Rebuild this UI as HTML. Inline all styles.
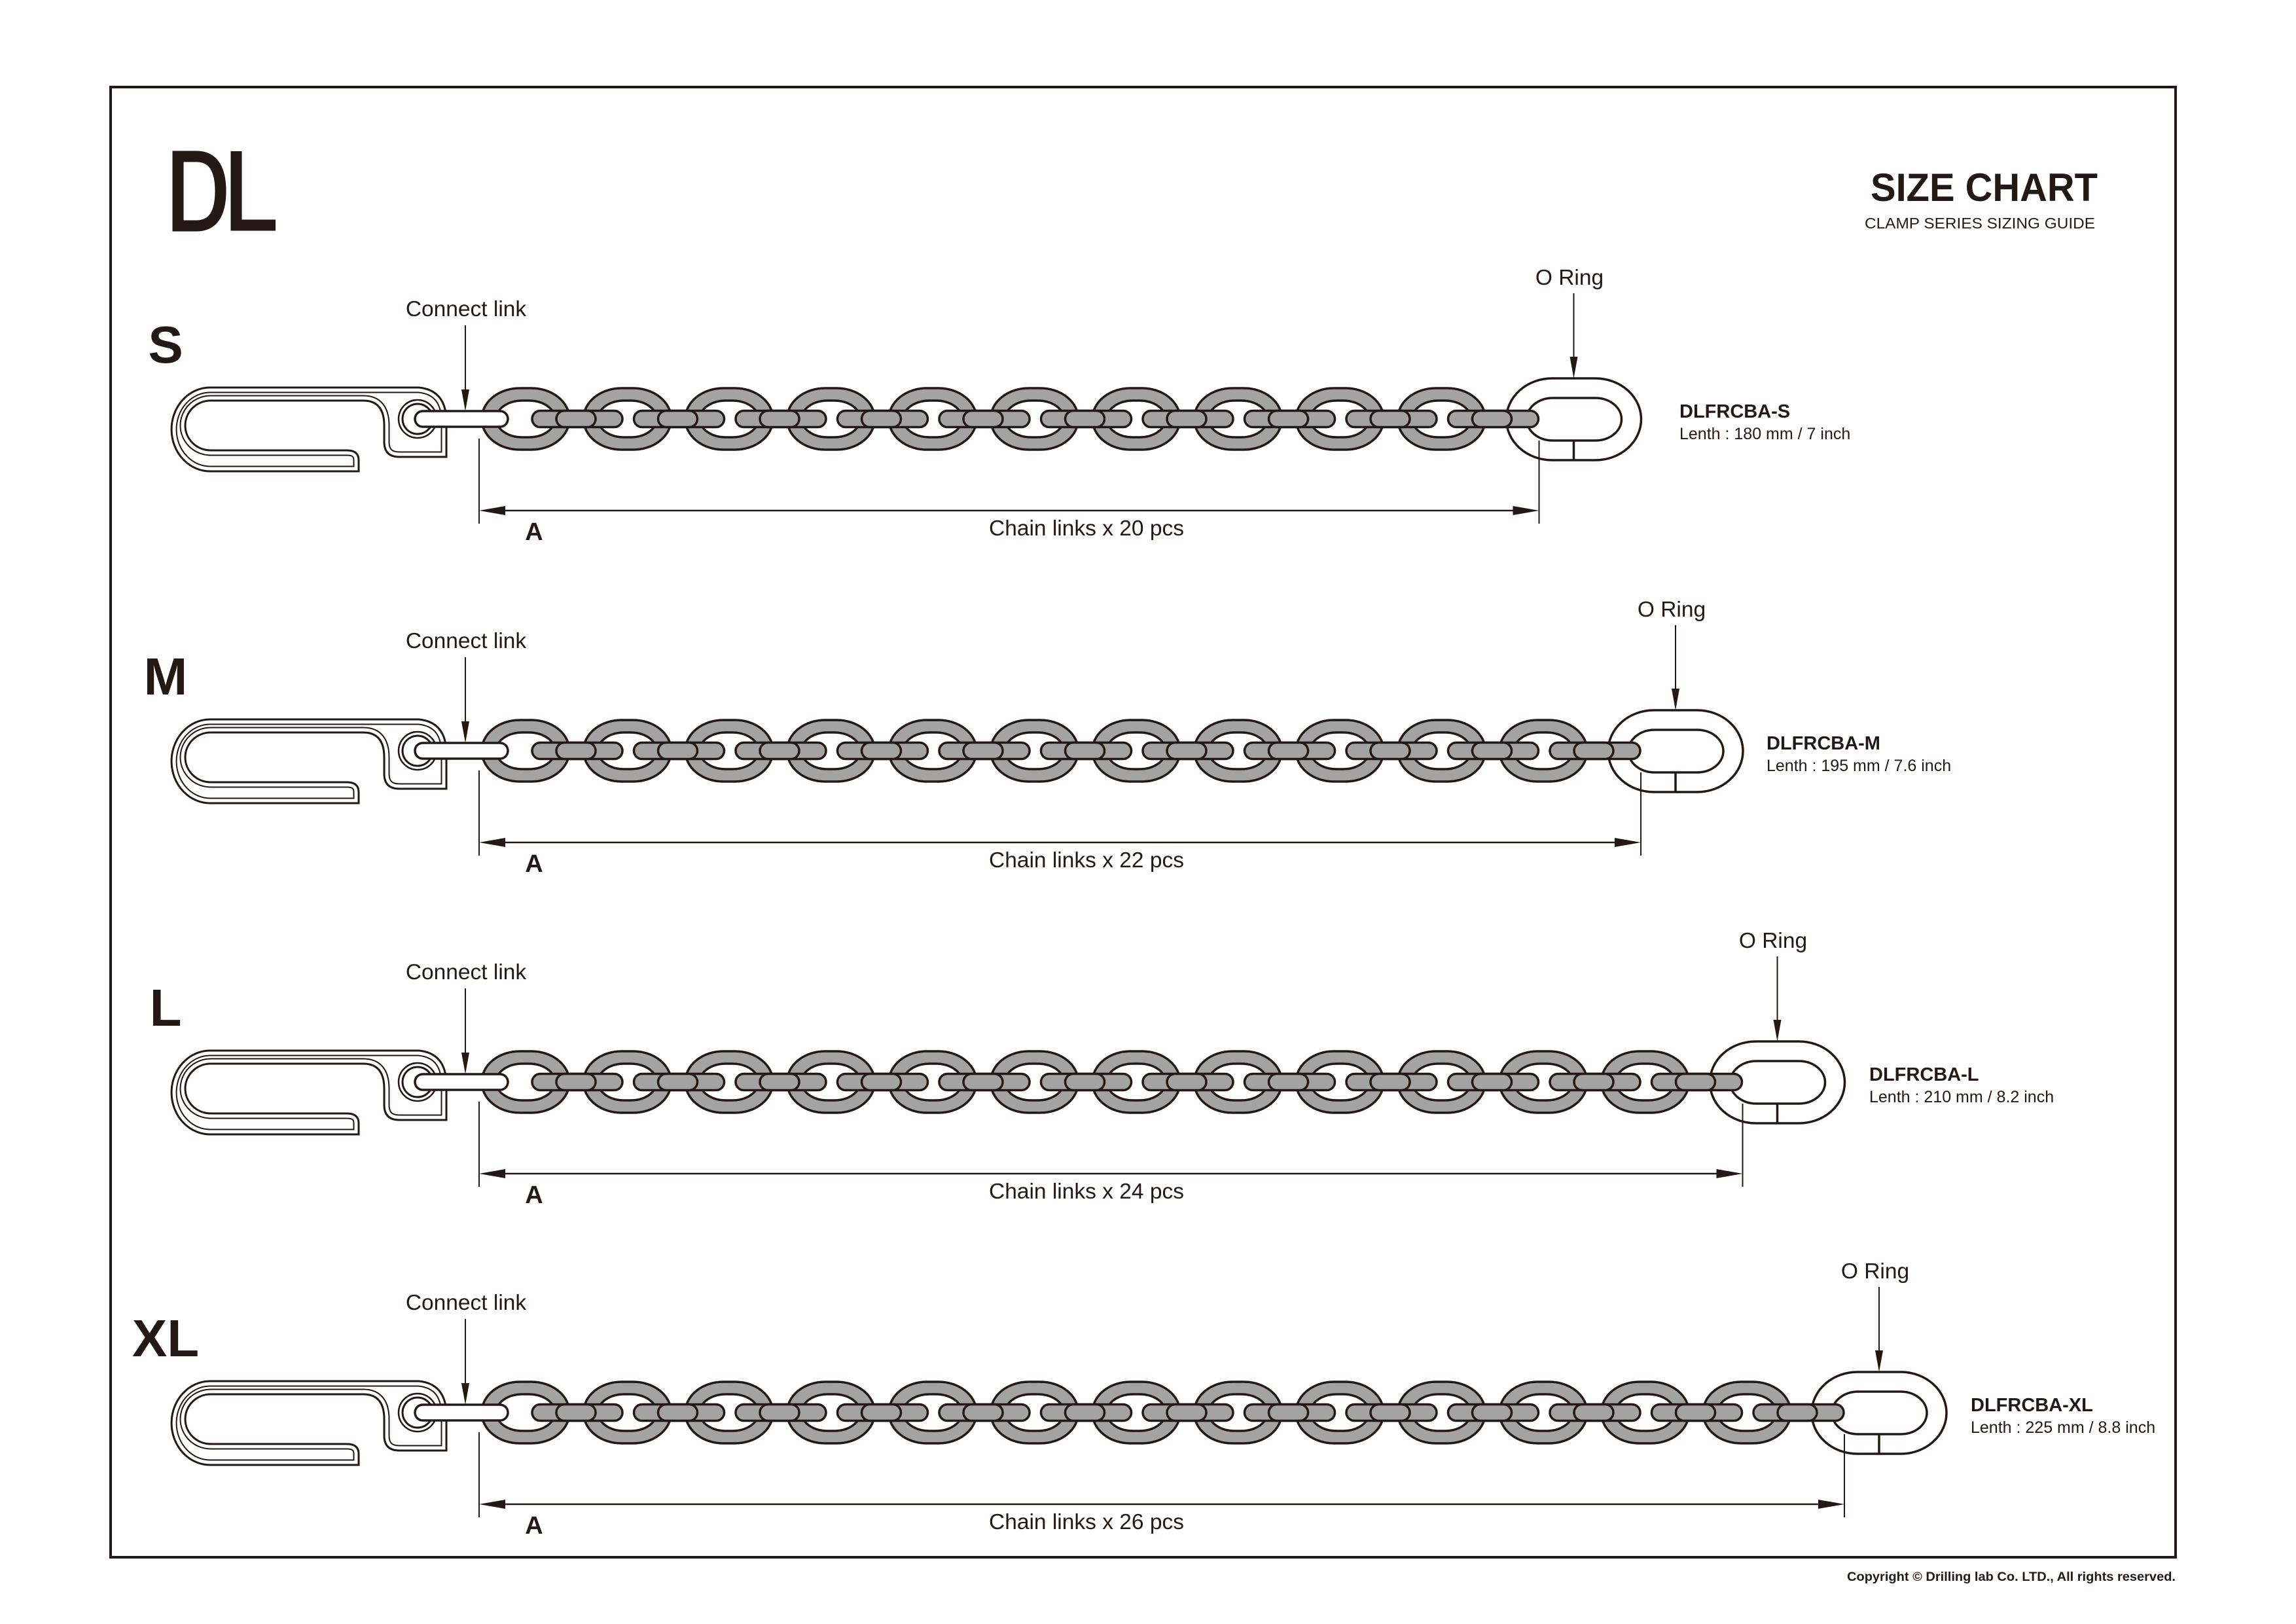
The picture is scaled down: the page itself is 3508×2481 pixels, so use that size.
<!DOCTYPE html>
<html><head><meta charset="utf-8"><style>
html,body{margin:0;padding:0;background:#fff;}
svg{display:block;}
text{font-family:"Liberation Sans",Arial,sans-serif;fill:#231815;}
</style></head><body>
<svg width="3508" height="2481" viewBox="0 0 3508 2481" xmlns="http://www.w3.org/2000/svg">
<defs>
  <g id="vl">
    <rect x="-67" y="593" width="134" height="94" rx="58" ry="47" fill="#a3a3a3" stroke="#231815" stroke-width="3.5"/>
    <rect x="-45" y="612" width="90" height="56" rx="40" ry="28" fill="#fff" stroke="#231815" stroke-width="3.5"/>
  </g>
  <g id="gp" fill="#a3a3a3" stroke="#231815" stroke-width="3.5">
    <rect x="10" y="627.5" width="138" height="25" rx="12.5" ry="12.5"/>
    <rect x="47" y="627.5" width="60" height="25" rx="12.5" ry="12.5"/>
  </g>
  <g id="ring" fill="#fff" stroke="#231815" stroke-width="3.5">
    <rect x="0" y="578" width="206" height="125" rx="70" ry="62.5"/>
    <rect x="31" y="608" width="145" height="65" rx="40" ry="32.5"/>
    <line x1="103" y1="673" x2="103" y2="703"/>
  </g>
  <path id="cpath" d="M 320 592 H 640 Q 680 596 682 640 V 698 H 610 Q 587 698 587 675 V 650 Q 587 612 555 612 H 322 A 39 38 0 0 0 322 688 H 530 Q 548 688 548 703 V 720 H 322 A 59 64 0 0 1 320 592 Z"/>
  <clipPath id="cclip"><use href="#cpath"/></clipPath>
  <g id="cl">
    <use href="#cpath" fill="#fff"/>
    <g clip-path="url(#cclip)" fill="none" stroke-linejoin="round">
      <use href="#cpath" stroke="#231815" stroke-width="17"/>
      <use href="#cpath" stroke="#fff" stroke-width="13"/>
    </g>
    <use href="#cpath" fill="none" stroke="#231815" stroke-width="3"/>
    <circle cx="638" cy="640" r="29" fill="#fff" stroke="#231815" stroke-width="2.5"/>
    <circle cx="638" cy="640" r="23" fill="#fff" stroke="#231815" stroke-width="3"/>
  </g>
  <g id="common">
    <use href="#cl"/>
    <text x="712" y="483" font-size="33.5" text-anchor="middle">Connect link</text>
    <line x1="711" y1="497" x2="711" y2="600" stroke="#231815" stroke-width="2"/>
    <polygon points="705,595 717,595 711,628" fill="#231815"/>
    <line x1="732" y1="670" x2="732" y2="800" stroke="#231815" stroke-width="2"/>
    <text x="816" y="825" font-size="38" font-weight="bold" text-anchor="middle">A</text>
  </g>
</defs>

<rect x="169" y="133" width="3155" height="2246" fill="none" stroke="#231815" stroke-width="4"/>

<!-- logo -->
<path d="M272 239 H300 Q337 239 337 292 Q337 345 300 345 H272 Z" fill="none" stroke="#231815" stroke-width="17"/>
<path d="M361 231 V344 H421" fill="none" stroke="#231815" stroke-width="17"/>

<text x="3205" y="307" font-size="60" font-weight="bold" text-anchor="end" textLength="347" lengthAdjust="spacingAndGlyphs">SIZE CHART</text>
<text x="3201" y="349" font-size="23" text-anchor="end" textLength="352" lengthAdjust="spacingAndGlyphs">CLAMP SERIES SIZING GUIDE</text>
<text x="3324" y="2415" font-size="19" font-weight="bold" text-anchor="end" textLength="502" lengthAdjust="spacingAndGlyphs">Copyright © Drilling lab Co. LTD., All rights reserved.</text>

<!-- S -->
<g>
  <text x="253" y="554" font-size="80" font-weight="bold" text-anchor="middle">S</text>
  <use href="#common"/>
  <use href="#vl" x="803"/><use href="#vl" x="958.5"/><use href="#vl" x="1114"/><use href="#vl" x="1269.5"/><use href="#vl" x="1425"/><use href="#vl" x="1580.5"/><use href="#vl" x="1736"/><use href="#vl" x="1891.5"/><use href="#vl" x="2047"/><use href="#vl" x="2202.5"/>
  <use href="#ring" x="2301.5"/>
  <rect x="634" y="628" width="142" height="24" rx="12" fill="#fff" stroke="#231815" stroke-width="3.5"/>
  <use href="#gp" x="803"/><use href="#gp" x="958.5"/><use href="#gp" x="1114"/><use href="#gp" x="1269.5"/><use href="#gp" x="1425"/><use href="#gp" x="1580.5"/><use href="#gp" x="1736"/><use href="#gp" x="1891.5"/><use href="#gp" x="2047"/><use href="#gp" x="2202.5"/>
  <text x="2398" y="435" font-size="33.5" text-anchor="middle">O Ring</text>
  <line x1="2404.5" y1="448" x2="2404.5" y2="550" stroke="#231815" stroke-width="2"/>
  <polygon points="2398.5,545 2410.5,545 2404.5,578" fill="#231815"/>
  <line x1="2351.5" y1="673" x2="2351.5" y2="800" stroke="#231815" stroke-width="2"/>
  <line x1="760" y1="780" x2="2325" y2="780" stroke="#231815" stroke-width="2.5"/>
  <polygon points="732,780 772,773 772,787" fill="#231815"/>
  <polygon points="2351.5,780 2311.5,773 2311.5,787" fill="#231815"/>
  <text x="1660" y="818" font-size="33.5" text-anchor="middle">Chain links x 20 pcs</text>
  <text x="2566" y="638" font-size="29" font-weight="bold">DLFRCBA-S</text>
  <text x="2566" y="671" font-size="25">Lenth : 180 mm / 7 inch</text>
</g>

<!-- M -->
<g transform="translate(0,507)">
  <text x="253" y="554" font-size="80" font-weight="bold" text-anchor="middle">M</text>
  <use href="#common"/>
  <use href="#vl" x="803"/><use href="#vl" x="958.5"/><use href="#vl" x="1114"/><use href="#vl" x="1269.5"/><use href="#vl" x="1425"/><use href="#vl" x="1580.5"/><use href="#vl" x="1736"/><use href="#vl" x="1891.5"/><use href="#vl" x="2047"/><use href="#vl" x="2202.5"/><use href="#vl" x="2358"/>
  <use href="#ring" x="2457"/>
  <rect x="634" y="628" width="142" height="24" rx="12" fill="#fff" stroke="#231815" stroke-width="3.5"/>
  <use href="#gp" x="803"/><use href="#gp" x="958.5"/><use href="#gp" x="1114"/><use href="#gp" x="1269.5"/><use href="#gp" x="1425"/><use href="#gp" x="1580.5"/><use href="#gp" x="1736"/><use href="#gp" x="1891.5"/><use href="#gp" x="2047"/><use href="#gp" x="2202.5"/><use href="#gp" x="2358"/>
  <text x="2554" y="435" font-size="33.5" text-anchor="middle">O Ring</text>
  <line x1="2560" y1="448" x2="2560" y2="550" stroke="#231815" stroke-width="2"/>
  <polygon points="2554,545 2566,545 2560,578" fill="#231815"/>
  <line x1="2507" y1="673" x2="2507" y2="800" stroke="#231815" stroke-width="2"/>
  <line x1="760" y1="780" x2="2480" y2="780" stroke="#231815" stroke-width="2.5"/>
  <polygon points="732,780 772,773 772,787" fill="#231815"/>
  <polygon points="2507,780 2467,773 2467,787" fill="#231815"/>
  <text x="1660" y="818" font-size="33.5" text-anchor="middle">Chain links x 22 pcs</text>
  <text x="2699" y="638" font-size="29" font-weight="bold">DLFRCBA-M</text>
  <text x="2699" y="671" font-size="25">Lenth : 195 mm / 7.6 inch</text>
</g>

<!-- L -->
<g transform="translate(0,1013)">
  <text x="253" y="554" font-size="80" font-weight="bold" text-anchor="middle">L</text>
  <use href="#common"/>
  <use href="#vl" x="803"/><use href="#vl" x="958.5"/><use href="#vl" x="1114"/><use href="#vl" x="1269.5"/><use href="#vl" x="1425"/><use href="#vl" x="1580.5"/><use href="#vl" x="1736"/><use href="#vl" x="1891.5"/><use href="#vl" x="2047"/><use href="#vl" x="2202.5"/><use href="#vl" x="2358"/><use href="#vl" x="2513.5"/>
  <use href="#ring" x="2612.5"/>
  <rect x="634" y="628" width="142" height="24" rx="12" fill="#fff" stroke="#231815" stroke-width="3.5"/>
  <use href="#gp" x="803"/><use href="#gp" x="958.5"/><use href="#gp" x="1114"/><use href="#gp" x="1269.5"/><use href="#gp" x="1425"/><use href="#gp" x="1580.5"/><use href="#gp" x="1736"/><use href="#gp" x="1891.5"/><use href="#gp" x="2047"/><use href="#gp" x="2202.5"/><use href="#gp" x="2358"/><use href="#gp" x="2513.5"/>
  <text x="2709" y="435" font-size="33.5" text-anchor="middle">O Ring</text>
  <line x1="2715.5" y1="448" x2="2715.5" y2="550" stroke="#231815" stroke-width="2"/>
  <polygon points="2709.5,545 2721.5,545 2715.5,578" fill="#231815"/>
  <line x1="2662.5" y1="673" x2="2662.5" y2="800" stroke="#231815" stroke-width="2"/>
  <line x1="760" y1="780" x2="2635" y2="780" stroke="#231815" stroke-width="2.5"/>
  <polygon points="732,780 772,773 772,787" fill="#231815"/>
  <polygon points="2662.5,780 2622.5,773 2622.5,787" fill="#231815"/>
  <text x="1660" y="818" font-size="33.5" text-anchor="middle">Chain links x 24 pcs</text>
  <text x="2856" y="638" font-size="29" font-weight="bold">DLFRCBA-L</text>
  <text x="2856" y="671" font-size="25">Lenth : 210 mm / 8.2 inch</text>
</g>

<!-- XL -->
<g transform="translate(0,1518)">
  <text x="253" y="554" font-size="80" font-weight="bold" text-anchor="middle">XL</text>
  <use href="#common"/>
  <use href="#vl" x="803"/><use href="#vl" x="958.5"/><use href="#vl" x="1114"/><use href="#vl" x="1269.5"/><use href="#vl" x="1425"/><use href="#vl" x="1580.5"/><use href="#vl" x="1736"/><use href="#vl" x="1891.5"/><use href="#vl" x="2047"/><use href="#vl" x="2202.5"/><use href="#vl" x="2358"/><use href="#vl" x="2513.5"/><use href="#vl" x="2669"/>
  <use href="#ring" x="2768"/>
  <rect x="634" y="628" width="142" height="24" rx="12" fill="#fff" stroke="#231815" stroke-width="3.5"/>
  <use href="#gp" x="803"/><use href="#gp" x="958.5"/><use href="#gp" x="1114"/><use href="#gp" x="1269.5"/><use href="#gp" x="1425"/><use href="#gp" x="1580.5"/><use href="#gp" x="1736"/><use href="#gp" x="1891.5"/><use href="#gp" x="2047"/><use href="#gp" x="2202.5"/><use href="#gp" x="2358"/><use href="#gp" x="2513.5"/><use href="#gp" x="2669"/>
  <text x="2865" y="435" font-size="33.5" text-anchor="middle">O Ring</text>
  <line x1="2871" y1="448" x2="2871" y2="550" stroke="#231815" stroke-width="2"/>
  <polygon points="2865,545 2877,545 2871,578" fill="#231815"/>
  <line x1="2818" y1="673" x2="2818" y2="800" stroke="#231815" stroke-width="2"/>
  <line x1="760" y1="780" x2="2790" y2="780" stroke="#231815" stroke-width="2.5"/>
  <polygon points="732,780 772,773 772,787" fill="#231815"/>
  <polygon points="2818,780 2778,773 2778,787" fill="#231815"/>
  <text x="1660" y="818" font-size="33.5" text-anchor="middle">Chain links x 26 pcs</text>
  <text x="3011" y="638" font-size="29" font-weight="bold">DLFRCBA-XL</text>
  <text x="3011" y="671" font-size="25">Lenth : 225 mm / 8.8 inch</text>
</g>
</svg>
</body></html>
